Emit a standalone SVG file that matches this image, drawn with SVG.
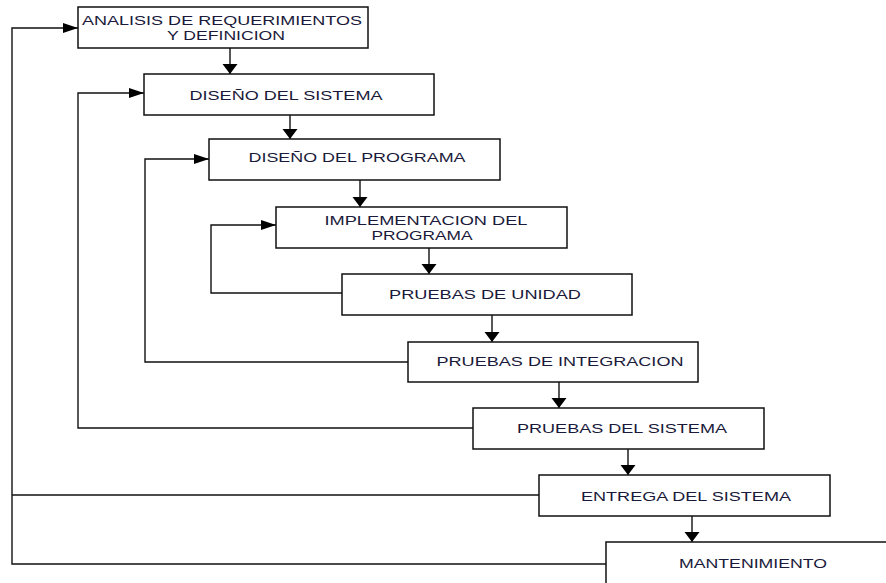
<svg xmlns="http://www.w3.org/2000/svg" width="886" height="583" viewBox="0 0 886 583">
<style>
.box{fill:#fff;stroke:#111;stroke-width:1.5}
.lbl{font-family:"Liberation Sans",Arial,sans-serif;font-size:13px;fill:#1a1a3a;text-anchor:middle}
.ln{fill:none;stroke:#111;stroke-width:1.4}
</style>
<defs>
<marker id="ad" markerUnits="userSpaceOnUse" markerWidth="10" markerHeight="16" refX="10" refY="7.5" orient="auto" viewBox="0 0 10 15">
<path d="M0,0 L10,7.5 L0,15 Z" fill="#000"/>
</marker>
<marker id="ar" markerUnits="userSpaceOnUse" markerWidth="15" markerHeight="10" refX="15" refY="5" orient="auto" viewBox="0 0 15 10">
<path d="M0,0 L15,5 L0,10 Z" fill="#000"/>
</marker>
</defs>
<g id="connectors">
<line class="ln" x1="230" y1="48" x2="230" y2="74" marker-end="url(#ad)"/>
<line class="ln" x1="290" y1="115" x2="290" y2="139" marker-end="url(#ad)"/>
<line class="ln" x1="360" y1="180" x2="360" y2="207" marker-end="url(#ad)"/>
<line class="ln" x1="429" y1="248" x2="429" y2="274" marker-end="url(#ad)"/>
<line class="ln" x1="492" y1="315" x2="492" y2="342" marker-end="url(#ad)"/>
<line class="ln" x1="559" y1="382" x2="559" y2="408" marker-end="url(#ad)"/>
<line class="ln" x1="628" y1="449" x2="628" y2="475" marker-end="url(#ad)"/>
<line class="ln" x1="692" y1="516" x2="692" y2="542" marker-end="url(#ad)"/>
<polyline class="ln" points="342,293 211,293 211,225 276,225" marker-end="url(#ar)"/>
<polyline class="ln" points="408,362 145,362 145,159 209,159" marker-end="url(#ar)"/>
<polyline class="ln" points="473,428 78,428 78,93 144,93" marker-end="url(#ar)"/>
<line class="ln" x1="539" y1="495" x2="12" y2="495"/>
<polyline class="ln" points="606,564 12,564 12,28 78,28" marker-end="url(#ar)"/>
</g>
<g id="n1"><rect class="box" x="78" y="7" width="290" height="41"/>
<text class="lbl" x="222" y="25" textLength="280" lengthAdjust="spacingAndGlyphs">ANALISIS DE REQUERIMIENTOS</text>
<text class="lbl" x="226" y="40" textLength="118" lengthAdjust="spacingAndGlyphs">Y DEFINICION</text></g>
<g id="n2"><rect class="box" x="144" y="74" width="290" height="41"/>
<text class="lbl" x="286" y="100" textLength="193" lengthAdjust="spacingAndGlyphs">DISEÑO DEL SISTEMA</text></g>
<g id="n3"><rect class="box" x="209" y="139" width="291" height="41"/>
<text class="lbl" x="357" y="162" textLength="217" lengthAdjust="spacingAndGlyphs">DISEÑO DEL PROGRAMA</text></g>
<g id="n4"><rect class="box" x="276" y="207" width="291" height="41"/>
<text class="lbl" x="426" y="225" textLength="203" lengthAdjust="spacingAndGlyphs">IMPLEMENTACION DEL</text>
<text class="lbl" x="422" y="240" textLength="101" lengthAdjust="spacingAndGlyphs">PROGRAMA</text></g>
<g id="n5"><rect class="box" x="342" y="274" width="290" height="41"/>
<text class="lbl" x="485" y="299" textLength="192" lengthAdjust="spacingAndGlyphs">PRUEBAS DE UNIDAD</text></g>
<g id="n6"><rect class="box" x="408" y="342" width="290" height="40"/>
<text class="lbl" x="560" y="366" textLength="247" lengthAdjust="spacingAndGlyphs">PRUEBAS DE INTEGRACION</text></g>
<g id="n7"><rect class="box" x="473" y="408" width="291" height="41"/>
<text class="lbl" x="622" y="433" textLength="210" lengthAdjust="spacingAndGlyphs">PRUEBAS DEL SISTEMA</text></g>
<g id="n8"><rect class="box" x="539" y="475" width="291" height="41"/>
<text class="lbl" x="686" y="501" textLength="210" lengthAdjust="spacingAndGlyphs">ENTREGA DEL SISTEMA</text></g>
<g id="n9"><rect class="box" x="606" y="542" width="300" height="60"/>
<text class="lbl" x="753" y="568" textLength="148" lengthAdjust="spacingAndGlyphs">MANTENIMIENTO</text></g>
</svg>
